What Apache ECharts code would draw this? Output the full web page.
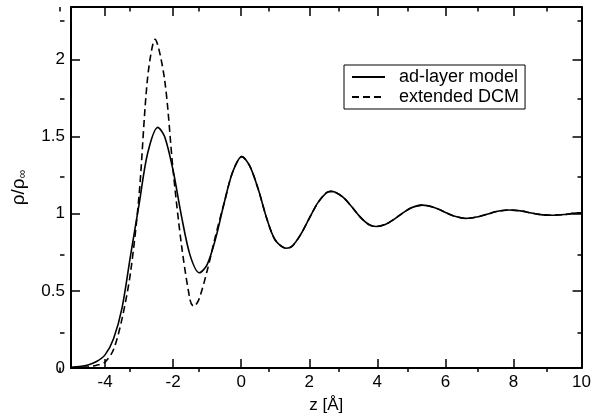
<!DOCTYPE html>
<html><head><meta charset="utf-8">
<script src="https://cdn.jsdelivr.net/npm/echarts@6/dist/echarts.min.js"></script>
<style>html,body{margin:0;padding:0;background:#fff}#c{width:594px;height:419px}</style>
</head><body><div id="c"></div>
<script>
// ---- data ----
const seriesNames = ['ad-layer model', 'extended DCM'];
const zSolid = [-5,-4.75,-4.5,-4.25,-4,-3.75,-3.5,-3.25,-3,-2.75,-2.45,-2.25,-2,-1.75,-1.5,-1.23,-1,-0.75,-0.5,-0.25,0.02,0.25,0.5,0.75,1,1.32,1.5,1.75,2,2.25,2.5,2.64,2.75,3,3.25,3.5,3.75,3.96,4.25,4.5,4.75,5,5.31,5.5,5.75,6,6.25,6.6,6.75,7,7.25,7.5,7.86,8.25,8.5,8.75,9.1,9.5,9.75,10];
const rhoSolid = [0.005,0.010,0.020,0.042,0.085,0.19,0.39,0.73,1.06,1.39,1.56,1.50,1.28,0.98,0.73,0.617,0.67,0.84,1.07,1.27,1.37,1.31,1.16,0.97,0.83,0.776,0.79,0.866,0.97,1.07,1.135,1.145,1.141,1.106,1.045,0.978,0.93,0.917,0.932,0.965,1.005,1.039,1.056,1.051,1.034,1.008,0.985,0.970,0.972,0.982,0.998,1.014,1.024,1.017,1.006,0.996,0.990,0.995,1.002,1.006];
const zDashed = [-5,-4.75,-4.5,-4.25,-4,-3.75,-3.5,-3.25,-3,-2.75,-2.53,-2.25,-2,-1.75,-1.5,-1.4,-1.25,-1,-0.75,-0.5,-0.25,0.02,0.25,0.5,0.75,1,1.32,1.5,1.75,2,2.25,2.5,2.64,2.75,3,3.25,3.5,3.75,3.96,4.25,4.5,4.75,5,5.31,5.5,5.75,6,6.25,6.6,6.75,7,7.25,7.5,7.86,8.25,8.5,8.75,9.1,9.5,9.75,10];
const rhoDashed = [0.002,0.004,0.008,0.018,0.038,0.12,0.32,0.62,1.12,1.88,2.13,1.87,1.28,0.79,0.44,0.40,0.44,0.63,0.86,1.07,1.27,1.37,1.31,1.16,0.97,0.83,0.776,0.79,0.866,0.97,1.07,1.135,1.145,1.141,1.106,1.045,0.978,0.93,0.917,0.932,0.965,1.005,1.039,1.056,1.051,1.034,1.008,0.985,0.970,0.972,0.982,0.998,1.014,1.024,1.017,1.006,0.996,0.990,0.995,1.002,1.006];
const xMajorTicks = [-4,-2,0,2,4,6,8,10];
const xMinorTicks = [-5,-3,-1,1,3,5,7,9];
const yMajorTicks = [0,0.5,1,1.5,2];
const yMinorTicks = [0.25,0.75,1.25,1.75,2.25];
const xRange = [-5, 10];
const yRange = [0, 2.34];

const FONT = '"Liberation Sans", Arial, Helvetica, sans-serif';
const gridRect = {left: 60, right: 12, top: 7, bottom: 47};

function xAx(grid, pos, ticks, len, withLabels) {
  const a = {
    type: 'value', gridIndex: grid, position: pos, min: xRange[0], max: xRange[1],
    axisLine: {show: grid === 0, onZero: false, lineStyle: {color: '#000', width: 2}},
    axisTick: {show: true, inside: true, length: len, customValues: ticks, lineStyle: {color: '#000', width: 1.5}},
    axisLabel: {show: withLabels, customValues: xMajorTicks, margin: 6, color: '#000', fontSize: 17, fontFamily: FONT},
    splitLine: {show: false}
  };
  if (withLabels) {
    a.name = 'z [Å]';
    a.nameLocation = 'middle';
    a.nameGap = 29;
    a.nameTextStyle = {color: '#000', fontSize: 17, fontFamily: FONT};
  }
  return a;
}
function yAx(grid, pos, ticks, len, withLabels) {
  const a = {
    type: 'value', gridIndex: grid, position: pos, min: yRange[0], max: yRange[1],
    axisLine: {show: grid === 0, onZero: false, lineStyle: {color: '#000', width: 2}},
    axisTick: {show: true, inside: true, length: len, customValues: ticks, lineStyle: {color: '#000', width: 1.5}},
    axisLabel: {show: withLabels, customValues: yMajorTicks, margin: 6, color: '#000', fontSize: 17, fontFamily: FONT},
    splitLine: {show: false}
  };
  if (withLabels) {
    a.name = 'ρ/ρ{s|∞}';
    a.nameLocation = 'middle';
    a.nameGap = 42;
    a.nameTextStyle = {color: '#000', fontSize: 19, fontFamily: FONT, lineHeight: 21,
      rich: {s: {fontSize: 12, fontFamily: FONT, color: '#000', lineHeight: 21, verticalAlign: 'bottom'}}};
  }
  return a;
}

const chart = echarts.init(document.getElementById('c'), null, {renderer: 'canvas'});
chart.setOption({
  animation: false,
  backgroundColor: '#fff',
  grid: [Object.assign({}, gridRect), Object.assign({}, gridRect)],
  xAxis: [
    xAx(0, 'bottom', xMajorTicks, 9, true),
    xAx(0, 'top', xMajorTicks, 9, false),
    xAx(1, 'bottom', xMinorTicks, 4.5, false),
    xAx(1, 'top', xMinorTicks, 4.5, false)
  ],
  yAxis: [
    yAx(0, 'left', yMajorTicks, 9, true),
    yAx(0, 'right', yMajorTicks, 9, false),
    yAx(1, 'left', yMinorTicks, 4.5, false),
    yAx(1, 'right', yMinorTicks, 4.5, false)
  ],
  legend: {
    left: 344, top: 65, orient: 'vertical', data: seriesNames,
    itemWidth: 33, itemHeight: 21, itemGap: 2,
    padding: [3, 6, 3, 7], borderColor: '#000', borderWidth: 1, backgroundColor: '#fff',
    itemStyle: {color: 'rgba(0,0,0,0)', borderColor: 'rgba(0,0,0,0)', borderWidth: 0, opacity: 0},
    textStyle: {fontSize: 18, fontFamily: FONT, color: '#000', padding: [0, 0, 0, 9]}
  },
  series: [
    {name: seriesNames[0], type: 'line', xAxisIndex: 0, yAxisIndex: 0, symbol: 'none', smooth: 0.3,
     data: zSolid.map((z, i) => [z, rhoSolid[i]]),
     lineStyle: {color: '#000', width: 1.6, type: 'solid'}, itemStyle: {color: '#000'}, z: 3},
    {name: seriesNames[1], type: 'line', xAxisIndex: 0, yAxisIndex: 0, symbol: 'none', smooth: 0.3,
     data: zDashed.map((z, i) => [z, rhoDashed[i]]),
     lineStyle: {color: '#000', width: 1.6, type: [7, 4]}, itemStyle: {color: '#000'}, z: 2}
  ]
});
</script></body></html>
